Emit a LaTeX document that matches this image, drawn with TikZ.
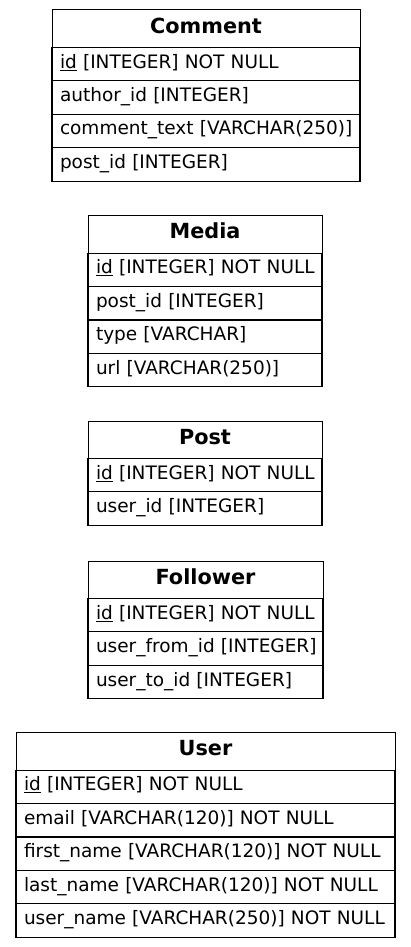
\documentclass[tikz,border=0pt]{standalone}
\usepackage{fontspec}
\setmainfont{DejaVu Sans}
\begin{document}
\begin{tikzpicture}[x=1pt,y=1pt,
  every node/.style={font=\fontsize{18.5}{22}\selectfont},
  hdr/.style={draw, line width=1pt, anchor=north west, inner xsep=0pt, inner ysep=0pt, outer sep=0pt,
    minimum width=#1, minimum height=37.5pt, text height=12pt, text depth=3pt,
    font=\fontsize{20.8}{24}\selectfont\bfseries},
  field/.style={draw, line width=1.1pt, anchor=north west, inner xsep=8pt, inner ysep=0pt, outer sep=0pt,
    text width=#1, align=left, minimum height=33.4pt, text height=11pt, text depth=3pt},
  outline/.style={draw, line width=1pt}
]
\useasboundingbox (0,0) rectangle (411,-947);
\newcommand{\pk}{\underline{id}}

% Comment
\node[hdr=308pt] (cmt) at (52,-10) {Comment};
\node[field=292pt] (cmt1) at (cmt.south west) {\mbox{\pk{} [INTEGER] NOT NULL}};
\node[field=292pt] (cmt2) at (cmt1.south west) {\mbox{author\_id [INTEGER]}};
\node[field=292pt] (cmt3) at (cmt2.south west) {\mbox{comment\_text [VARCHAR(250)]}};
\node[field=292pt] (cmt4) at (cmt3.south west) {\mbox{post\_id [INTEGER]}};
\draw[outline] (cmt.north west) rectangle (cmt4.south east);

% Media
\node[hdr=234pt] (med) at (88,-215.7) {Media};
\node[field=218pt] (med1) at (med.south west) {\mbox{\pk{} [INTEGER] NOT NULL}};
\node[field=218pt] (med2) at (med1.south west) {\mbox{post\_id [INTEGER]}};
\node[field=218pt] (med3) at (med2.south west) {\mbox{type [VARCHAR]}};
\node[field=218pt] (med4) at (med3.south west) {\mbox{url [VARCHAR(250)]}};
\draw[outline] (med.north west) rectangle (med4.south east);

% Post
\node[hdr=234pt] (pst) at (88,-421) {Post};
\node[field=218pt] (pst1) at (pst.south west) {\mbox{\pk{} [INTEGER] NOT NULL}};
\node[field=218pt] (pst2) at (pst1.south west) {\mbox{user\_id [INTEGER]}};
\draw[outline] (pst.north west) rectangle (pst2.south east);

% Follower
\node[hdr=235pt] (fol) at (88,-561) {Follower};
\node[field=219pt] (fol1) at (fol.south west) {\mbox{\pk{} [INTEGER] NOT NULL}};
\node[field=219pt] (fol2) at (fol1.south west) {\mbox{user\_from\_id [INTEGER]}};
\node[field=219pt] (fol3) at (fol2.south west) {\mbox{user\_to\_id [INTEGER]}};
\draw[outline] (fol.north west) rectangle (fol3.south east);

% User
\node[hdr=379pt] (usr) at (16,-732.7) {User};
\node[field=363pt] (usr1) at (usr.south west) {\mbox{\pk{} [INTEGER] NOT NULL}};
\node[field=363pt] (usr2) at (usr1.south west) {\mbox{email [VARCHAR(120)] NOT NULL}};
\node[field=363pt] (usr3) at (usr2.south west) {\mbox{first\_name [VARCHAR(120)] NOT NULL}};
\node[field=363pt] (usr4) at (usr3.south west) {\mbox{last\_name [VARCHAR(120)] NOT NULL}};
\node[field=363pt] (usr5) at (usr4.south west) {\mbox{user\_name [VARCHAR(250)] NOT NULL}};
\draw[outline] (usr.north west) rectangle (usr5.south east);
\end{tikzpicture}
\end{document}
